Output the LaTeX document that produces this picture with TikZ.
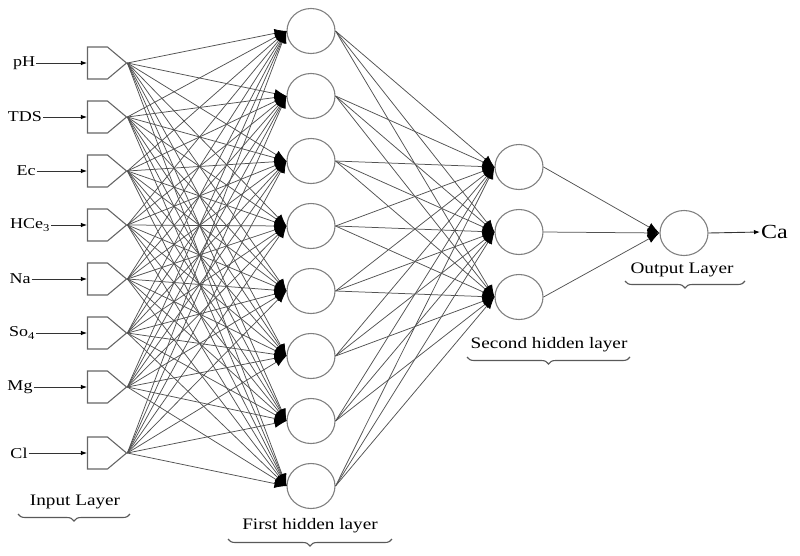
\documentclass[tikz,border=0pt]{standalone}
\usepackage{fontspec}
\setmainfont{Liberation Serif}[FakeStretch=1.2]
\usetikzlibrary{shapes.symbols,shapes.geometric,arrows.meta,decorations.pathreplacing}
\tikzset{
 neuron/.style={ellipse, draw=black!50, line width=1.1pt, minimum width=48pt, minimum height=45pt, inner sep=0pt},
 inbox/.style={signal, signal to=east, signal pointer angle=80, draw=black!60, line width=1.1pt, minimum width=39pt, minimum height=32pt, inner sep=0pt},
 wire/.style={draw=black!68, line width=0.75pt},
 bigtip/.style={wire, -{Latex[length=12pt,width=9pt,black]}},
 smalltip/.style={draw=black!80, line width=0.9pt, -{Latex[length=6pt,width=4.5pt,black]}},
 lbl/.style={font=\fontsize{15}{17}\selectfont, text=black, inner sep=1pt},
 layerlbl/.style={font=\fontsize{16}{18}\selectfont, text=black, inner sep=0pt},
 bracepath/.style={draw=black!65, line width=1.1pt, decorate, decoration={brace, amplitude=7pt}},
}
\begin{document}
\begin{tikzpicture}[x=1pt,y=-1pt]
\useasboundingbox (0,0) rectangle (800,555);
% input layer
\foreach \i/\y/\t/\lx in {1/63/pH/24, 2/117/TDS/25, 3/171/Ec/26, 4/225/HCe\textsubscript{3}/30, 5/279/Na/20, 6/333/So\textsubscript{4}/22, 7/387/Mg/20, 8/453/Cl/19}{
  \node[inbox] (in\i) at (97.5,\y) {};
  \node[lbl] (lab\i) at (\lx,\y) {\t};
  \draw[smalltip] (lab\i.east) -- (in\i.west);
}
% first hidden layer
\foreach \j in {1,...,8}{
  \node[neuron] (h\j) at (311,{31+65*(\j-1)}) {};
}
% second hidden layer
\foreach \k/\y in {1/167,2/232,3/297}{
  \node[neuron] (s\k) at (519,\y) {};
}
% output
\node[neuron] (o) at (684,233) {};
\node[font=\fontsize{20}{22}\selectfont, text=black, anchor=west, inner sep=1pt] (ca) at (760,232) {Ca};
% connections
\foreach \i in {1,...,8}{
  \foreach \j in {1,...,8}{
    \draw[bigtip] (in\i.east) -- (h\j.west);
  }
}
\foreach \j in {1,...,8}{
  \foreach \k in {1,2,3}{
    \draw[bigtip] (h\j.east) -- (s\k.west);
  }
}
\foreach \k in {1,2,3}{
  \draw[bigtip] (s\k.east) -- (o.west);
}
\draw[smalltip] (o.east) -- (ca.west);
% layer labels and braces
\node[layerlbl] (L1) at (75,502) {Input Layer};
\coordinate (b1r) at (130,514); \coordinate (b1l) at (18,514);
\draw[bracepath] (b1r) -- (b1l);
\node[layerlbl] (L2) at (310,526) {First hidden layer};
\coordinate (b2r) at (392,539); \coordinate (b2l) at (228,539);
\draw[bracepath] (b2r) -- (b2l);
\node[layerlbl] (L3) at (549,345) {Second hidden layer};
\coordinate (b3r) at (630,357); \coordinate (b3l) at (467,357);
\draw[bracepath] (b3r) -- (b3l);
\node[layerlbl] (L4) at (682,270) {Output Layer};
\coordinate (b4r) at (745,281); \coordinate (b4l) at (625,281);
\draw[bracepath] (b4r) -- (b4l);
\end{tikzpicture}
\end{document}
